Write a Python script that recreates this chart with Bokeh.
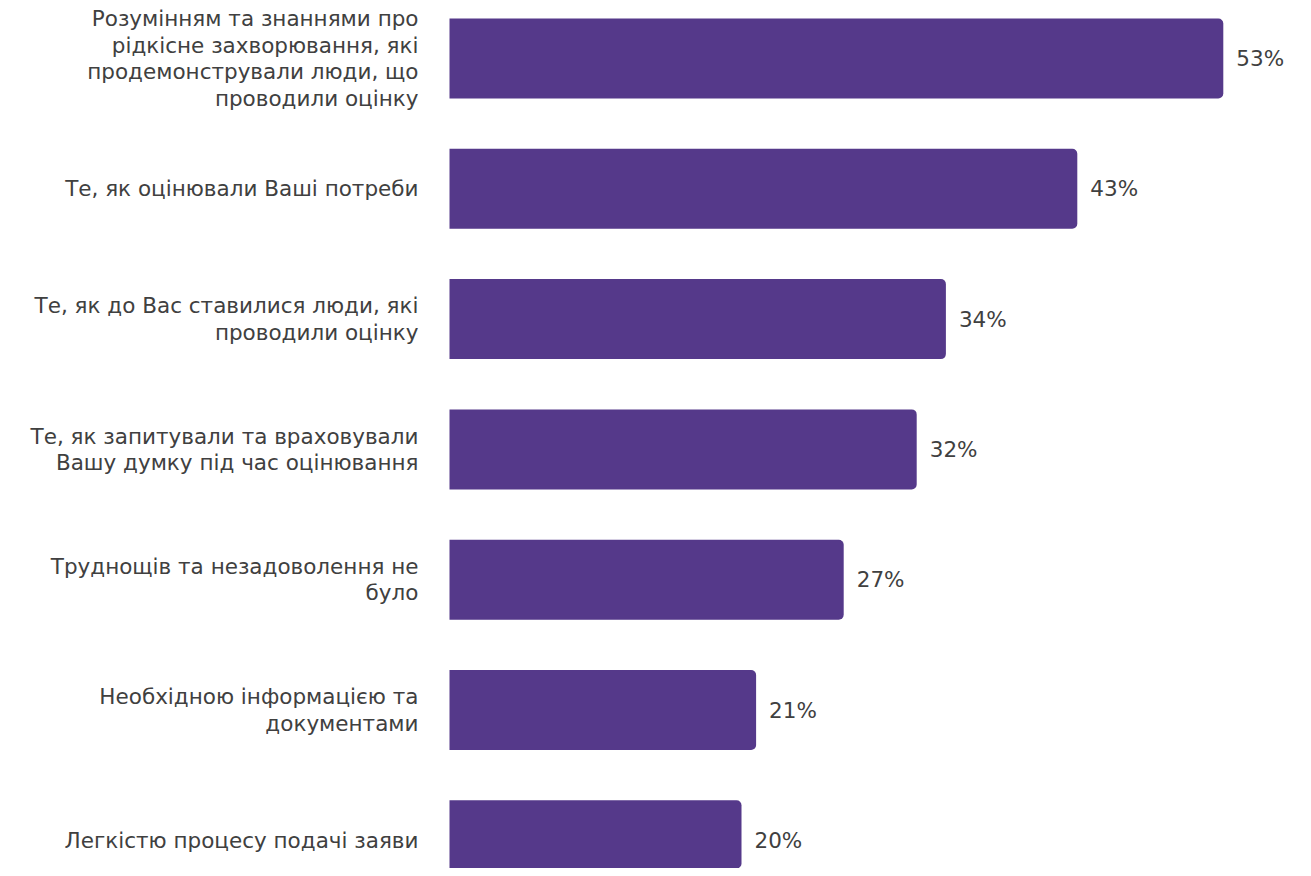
from bokeh.plotting import figure
from bokeh.models import Range1d, ColumnDataSource
from bokeh.core.properties import value
from bokeh.embed import file_html
from bokeh.resources import INLINE

categories = [
    "Розумінням та знаннями про\nрідкісне захворювання, які\nпродемонстрували люди, що\nпроводили оцінку",
    "Те, як оцінювали Ваші потреби",
    "Те, як до Вас ставилися люди, які\nпроводили оцінку",
    "Те, як запитували та враховували\nВашу думку під час оцінювання",
    "Труднощів та незадоволення не\nбуло",
    "Необхідною інформацією та\nдокументами",
    "Легкістю процесу подачі заяви",
]
values = [53, 43, 34, 32, 27, 21, 20]
value_labels = [f"{v}%" for v in values]

W, H = 1295, 868
px_per_unit = 14.6
left_px = 449
row_px = 130.3
top_px = 58

ys = list(range(len(values)))
src = ColumnDataSource(dict(y=ys, v=values, lab=value_labels, cat=categories,
                            zero=[0] * len(values)))

p = figure(width=W, height=H, output_backend="svg", toolbar_location=None,
           x_range=Range1d(-left_px / px_per_unit, (W - left_px) / px_per_unit),
           y_range=Range1d((H - top_px) / row_px, -top_px / row_px),
           min_border=0, outline_line_color=None)
p.xaxis.visible = False
p.yaxis.visible = False
p.xgrid.visible = False
p.ygrid.visible = False
p.background_fill_color = "white"
p.border_fill_color = "white"

p.hbar(y="y", left="zero", right="v", height=80 / row_px, source=src,
       fill_color="#55398A", line_color=None, border_radius=(0, 5, 5, 0))

p.text(x="v", y="y", text="lab", source=src, x_offset=13,
       text_align="left", text_baseline="middle",
       text_font=value("DejaVu Sans"), text_font_size="21.5px", text_color="#404040")

p.text(x="zero", y="y", text="cat", source=src, x_offset=-31,
       text_align="right", text_baseline="middle", text_line_height=1.06,
       text_font=value("DejaVu Sans"), text_font_size="21.5px", text_color="#404040")

open("out.html", "w").write(file_html(p, INLINE))
